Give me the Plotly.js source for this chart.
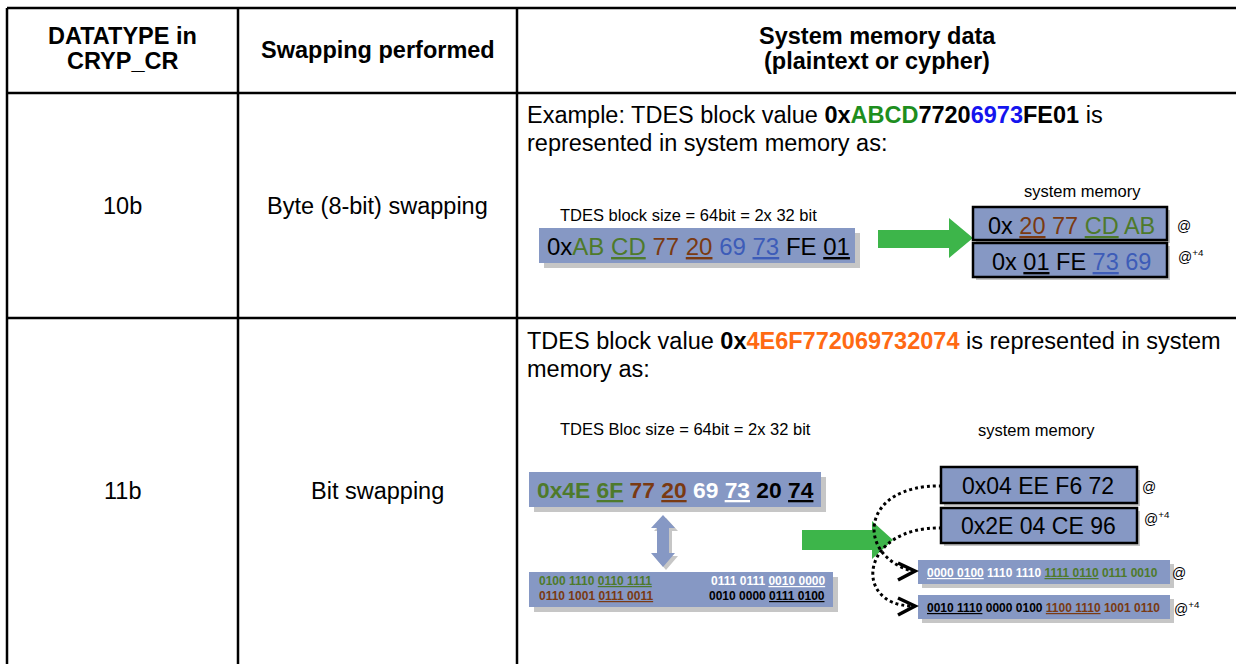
<!DOCTYPE html>
<html><head><meta charset="utf-8">
<script src="https://cdn.plot.ly/plotly-3.0.1.min.js"></script>
<style>html,body{margin:0;padding:0;background:#fff}#chart{width:1236px;height:664px}</style>
</head><body><div id="chart"></div>
<script>
// ---------------- data ----------------
const headerLines = [['DATATYPE in', 'CRYP_CR'], ['Swapping performed'], ['System memory data', '(plaintext or cypher)']];
const datatypes = ['10b', '11b'];
const swapModes = ['Byte (8-bit) swapping', 'Bit swapping'];

const row1Intro = ['Example: TDES block value ', ' is', 'represented in system memory as:'];
const row1ValueParts = ['0x', 'ABCD', '7720', '6973', 'FE01'];
const row1ValueColors = ['k', 'G', 'k', 'B', 'k'];
const row1Bytes = ['AB', 'CD', '77', '20', '69', '73', 'FE', '01'];
const row1ByteColors = ['g', 'g', 'r', 'r', 'b', 'b', 'k', 'k'];
const row1MemWords = [['20', '77', 'CD', 'AB'], ['01', 'FE', '73', '69']];
const row1MemColors = [['r', 'r', 'g', 'g'], ['k', 'k', 'b', 'b']];

const blockSizeLabels = ['TDES block size = 64bit = 2x 32 bit', 'TDES Bloc size = 64bit = 2x 32 bit'];
const memLabel = 'system memory';
const addrLabels = ['@', '@<sup>+4</sup>'];

const row2Intro = ['TDES block value ', ' is represented in system', 'memory as:'];
const row2ValueParts = ['0x', '4E6F772069732074'];
const row2ValueColors = ['k', 'O'];
const row2Bytes = ['4E', '6F', '77', '20', '69', '73', '20', '74'];
const row2ByteColors = ['g', 'g', 'r', 'r', 'w', 'w', 'k', 'k'];
const row2MemWords = ['0x04 EE F6 72', '0x2E 04 CE 96'];
const row2BitsLeft = [['0100 1110', '0110 1111'], ['0110 1001', '0111 0011']];
const row2BitsLeftColors = ['g', 'r'];
const row2BitsRight = [['0111 0111', '0010 0000'], ['0010 0000', '0111 0100']];
const row2BitsRightColors = ['w', 'k'];
const row2MemBits = [['0000 0100', '1110 1110', '1111 0110', '0111 0010'], ['0010 1110', '0000 0100', '1100 1110', '1001 0110']];
const row2MemBitColors = [['w', 'w', 'g', 'g'], ['k', 'k', 'r', 'r']];

// ---------------- styles ----------------
const PAL = {k: '#000000', g: '#4E7A2B', r: '#7A3A12', b: '#3D5CB8', w: '#FFFFFF', G: '#1E8E1E', B: '#1414EE', O: '#FF6A13'};
const FONT = 'Liberation Sans, Arial, Helvetica, sans-serif';
const BOX = '#8698C4';
const SHADOW = '#C6C6C6';
const GREEN = '#3DB54A';
const BIG = 23.5;
const ADDR = 14;

function seg(t, c, u) {
  const inner = u ? '<u>' + t + '</u>' : t;
  return '<span style="color:' + PAL[c] + '">' + inner + '</span>';
}
const annotations = [];
function txt(x, y, text, size, opts) {
  opts = opts || {};
  annotations.push({
    x: x, y: y, xref: 'x', yref: 'y', text: text, showarrow: false,
    xanchor: opts.xa || 'center', yanchor: 'middle',
    font: {family: FONT, size: size, color: opts.color || '#000'}
  });
}
const shapes = [];
function rect(x0, y0, x1, y1, fill, line, lw) {
  shapes.push({type: 'rect', xref: 'x', yref: 'y', x0: x0, y0: y0, x1: x1, y1: y1,
    fillcolor: fill, line: {color: line || 'rgba(0,0,0,0)', width: lw || 0}, layer: 'above'});
}
function shadowBox(x0, y0, x1, y1, d, border) {
  rect(x0 + d, y0 + d, x1 + d, y1 + d, SHADOW);
  rect(x0, y0, x1, y1, BOX, border ? '#000' : null, border ? 2.5 : 0);
}
function path(p, fill, line, lw, dash) {
  shapes.push({type: 'path', xref: 'x', yref: 'y', path: p,
    fillcolor: fill || 'rgba(0,0,0,0)',
    line: {color: line || 'rgba(0,0,0,0)', width: lw || 0, dash: dash || 'solid'}, layer: 'above'});
}
function line(x0, y0, x1, y1, w) {
  shapes.push({type: 'line', xref: 'x', yref: 'y', x0: x0, y0: y0, x1: x1, y1: y1,
    line: {color: '#000', width: w}, layer: 'above'});
}

// ---------------- table grid ----------------
const colX = [7, 238, 517, 1245];
const rowY = [8, 93, 318, 700];
line(colX[0], rowY[0], colX[0], rowY[3], 2.5);
line(colX[1], rowY[0], colX[1], rowY[3], 2.5);
line(colX[2], rowY[0], colX[2], rowY[3], 2.5);
line(colX[0], rowY[0], colX[3], rowY[0], 2.5);
line(colX[0], rowY[1], colX[3], rowY[1], 2.5);
line(colX[0], rowY[2], colX[3], rowY[2], 2.5);

// headers
const colC = [(colX[0] + colX[1]) / 2, (colX[1] + colX[2]) / 2, 877];
headerLines.forEach((lines, i) => {
  if (lines.length === 1) txt(colC[i], 50, '<b>' + lines[0] + '</b>', BIG);
  else lines.forEach((l, j) => txt(colC[i], 36 + j * 25, '<b>' + l + '</b>', BIG));
});
// row labels
const rowC = [206, 491];
datatypes.forEach((d, i) => txt(colC[0], rowC[i], d, BIG));
swapModes.forEach((d, i) => txt(colC[1], rowC[i], d, BIG));

// ---------------- row 1 ----------------
const v1 = row1ValueParts.map((p, i) => '<b>' + seg(p, row1ValueColors[i]) + '</b>').join('');
txt(525, 115, row1Intro[0] + v1 + row1Intro[1], BIG, {xa: 'left'});
txt(525, 143, row1Intro[2], BIG, {xa: 'left'});

txt(688, 215, blockSizeLabels[0], 16.5);
shadowBox(539, 228, 855, 263, 5, false);
txt(698, 246, seg('0x', 'k') + row1Bytes.map((b, i) => seg(b, row1ByteColors[i], i % 2 === 1)).join(' '), 24);

// green arrow row 1
path('M 878 230 L 949 230 L 949 218 L 973 238 L 949 258 L 949 248 L 878 248 Z', GREEN);

txt(1082, 191, memLabel, 16.5);
shadowBox(973, 207, 1167, 240, 3, true);
shadowBox(973, 243, 1167, 277, 3, true);
row1MemWords.forEach((w, j) => {
  const t = seg('0x', 'k') + ' ' + w.map((b, i) => seg(b, row1MemColors[j][i], i % 2 === 0)).join(' ');
  txt(1071, 226 + j * 36, t, 23.5);
});
txt(1184, 226, addrLabels[0], ADDR);
txt(1191, 256, addrLabels[1], ADDR);

// ---------------- row 2 ----------------
const v2 = row2ValueParts.map((p, i) => '<b>' + seg(p, row2ValueColors[i]) + '</b>').join('');
txt(525, 341, row2Intro[0] + v2 + row2Intro[1], BIG, {xa: 'left'});
txt(525, 369, row2Intro[2], BIG, {xa: 'left'});

txt(685, 429, blockSizeLabels[1], 16.5);
shadowBox(529, 472, 821, 507, 5, false);
txt(675, 490, '<b>' + seg('0x', 'g') + row2Bytes.map((b, i) => seg(b, row2ByteColors[i], i % 2 === 1)).join(' ') + '</b>', 22.8);

// double arrow
path('M 666 518 L 678 531 L 672 531 L 672 556 L 678 556 L 666 570 L 654 556 L 660 556 L 660 531 L 654 531 Z', SHADOW);
path('M 663 515 L 675 528 L 669 528 L 669 553 L 675 553 L 663 567 L 651 553 L 657 553 L 657 528 L 651 528 Z', BOX);

// bits box
shadowBox(529, 572, 833, 607, 5, false);
row2BitsLeft.forEach((pair, j) => {
  const t = '<b>' + seg(pair[0], row2BitsLeftColors[j]) + ' ' + seg(pair[1], row2BitsLeftColors[j], true) + '</b>';
  txt(537, 581 + j * 15, t, 12, {xa: 'left'});
});
row2BitsRight.forEach((pair, j) => {
  const t = '<b>' + seg(pair[0], row2BitsRightColors[j]) + ' ' + seg(pair[1], row2BitsRightColors[j], true) + '</b>';
  txt(827, 581 + j * 15, t, 12, {xa: 'right'});
});

// green arrow row 2
path('M 802 530 L 872 530 L 872 521 L 893 540 L 872 559 L 872 550 L 802 550 Z', GREEN);

txt(1036, 430, memLabel, 16.5);
shadowBox(941, 467, 1137, 503, 3, true);
shadowBox(941, 508, 1137, 543, 3, true);
row2MemWords.forEach((w, j) => txt(1038, 486 + j * 40, w, 23));
txt(1149, 487, addrLabels[0], ADDR);
txt(1157, 518, addrLabels[1], ADDR);

shadowBox(918, 560, 1170, 584, 4, false);
shadowBox(918, 595, 1170, 619, 4, false);
row2MemBits.forEach((w, j) => {
  const t = '<b>' + w.map((b, i) => seg(b, row2MemBitColors[j][i], i % 2 === 0)).join(' ') + '</b>';
  txt(925, 573 + j * 35, t, 12, {xa: 'left'});
  txt(j === 0 ? 1179 : 1187, 573 + j * 35, addrLabels[j], ADDR);
});

// dotted curves and chevrons
path('M 942 486 C 860 484, 855 555, 912 571', null, '#000', 3, 'dot');
path('M 942 528 C 860 526, 852 605, 912 606', null, '#000', 3, 'dot');
path('M 898 563 L 915 571 L 898 580', null, '#000', 3.5);
path('M 898 598 L 915 606 L 898 615', null, '#000', 3.5);

const layout = {
  width: 1236, height: 664,
  margin: {l: 0, r: 0, t: 0, b: 0},
  paper_bgcolor: '#fff', plot_bgcolor: '#fff',
  xaxis: {range: [0, 1236], visible: false, fixedrange: true},
  yaxis: {range: [664, 0], visible: false, fixedrange: true},
  showlegend: false,
  shapes: shapes,
  annotations: annotations
};
Plotly.newPlot('chart', [{x: [], y: [], type: 'scatter', mode: 'markers'}], layout, {displayModeBar: false, staticPlot: true});
</script>
</body></html>
